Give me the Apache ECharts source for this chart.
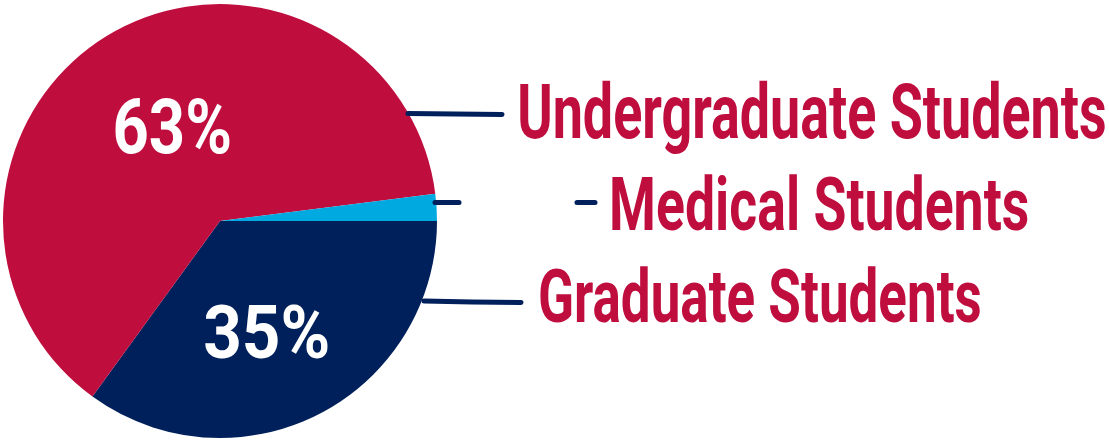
<!DOCTYPE html>
<html>
<head>
<meta charset="utf-8">
<script src="https://cdn.jsdelivr.net/npm/echarts@6/dist/echarts.min.js"></script>
<style>
html,body{margin:0;padding:0;background:#fff;}
#chart{width:1109px;height:440px;}
</style>
</head>
<body>
<div id="chart"></div>
<script>
// Data
const categories = ['Graduate Students', 'Undergraduate Students', 'Medical Students'];
const values = [35, 63, 2];
const percentLabels = ['35%', '63%', ''];
const colors = ['#00205B', '#BF0D3E', '#00A9E0'];

const CRIMSON = '#BF0D3E';
const NAVY = '#00205B';
const FAMILY = 'Roboto';

// Layout (ink boxes of texts, label line points)
const nameBoxes = [
  { left: 540, right: 980, capTop: 268, base: 322 },
  { left: 520, right: 1105, capTop: 83, base: 138 },
  { left: 612, right: 1028, capTop: 177, base: 230 }
];
const pctBoxes = [
  { left: 205, right: 328, capTop: 305, base: 358 },
  { left: 115, right: 230, capTop: 98, base: 153 },
  null
];
const lines = [
  [[424, 301], [472, 302], [521, 302.5]],
  [[408, 113.5], [455, 114], [502, 114.5]],
  [[435, 202.5], [447, 202.5], [459, 202.5]]
];
const medicalDash = [[577, 202.5], [595, 202.5]];

const mctx = document.createElement('canvas').getContext('2d');
function fitText(text, box, color) {
  // measure cap height ratio and ink extents for a 100px reference
  mctx.textBaseline = 'middle';
  mctx.textAlign = 'left';
  mctx.font = 'bold 100px ' + FAMILY;
  const h = mctx.measureText('H');
  const capRatio = (h.actualBoundingBoxAscent + h.actualBoundingBoxDescent) / 100;
  const fontSize = (box.base - box.capTop) / capRatio;
  const font = 'bold ' + fontSize.toFixed(2) + 'px ' + FAMILY;
  mctx.font = font;
  const m = mctx.measureText(text);
  const hm = mctx.measureText('H');
  const ink = m.actualBoundingBoxLeft + m.actualBoundingBoxRight;
  const scaleX = (box.right - box.left) / ink;
  return {
    type: 'text',
    x: box.left + m.actualBoundingBoxLeft * scaleX,
    y: box.base - hm.actualBoundingBoxDescent,
    scaleX: scaleX,
    z: 10,
    silent: true,
    style: { text: text, font: font, fill: color, align: 'left', verticalAlign: 'middle' }
  };
}

const graphics = [];
categories.forEach((c, i) => {
  graphics.push({
    type: 'polyline', z: 9, silent: true,
    shape: { points: lines[i] },
    style: { stroke: NAVY, lineWidth: 5, lineCap: 'round', fill: null }
  });
  graphics.push(fitText(c, nameBoxes[i], CRIMSON));
  if (pctBoxes[i]) graphics.push(fitText(percentLabels[i], pctBoxes[i], '#fff'));
});
graphics.push({
  type: 'line', z: 9, silent: true,
  shape: { x1: medicalDash[0][0], y1: medicalDash[0][1], x2: medicalDash[1][0], y2: medicalDash[1][1] },
  style: { stroke: NAVY, lineWidth: 5, lineCap: 'round' }
});

const chart = echarts.init(document.getElementById('chart'), null, { renderer: 'canvas' });
chart.setOption({
  animation: false,
  backgroundColor: '#fff',
  series: [
    {
      type: 'pie',
      center: [220, 221],
      radius: [0, 217],
      startAngle: 0,
      clockwise: true,
      silent: true,
      data: categories.map((c, i) => ({ name: c, value: values[i], itemStyle: { color: colors[i] } })),
      label: { show: false },
      labelLine: { show: false }
    }
  ],
  graphic: graphics
});
</script>
</body>
</html>
